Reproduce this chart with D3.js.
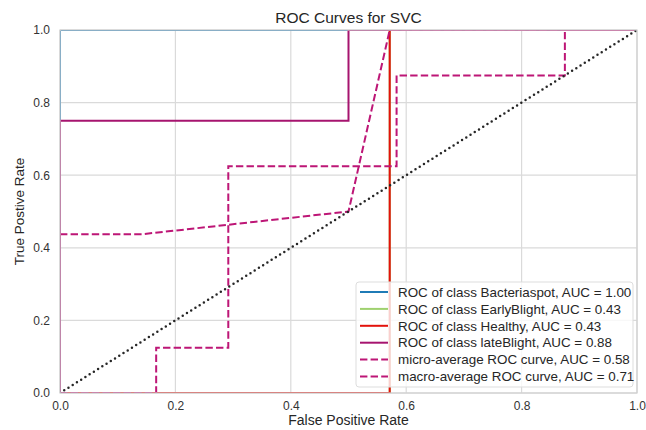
<!DOCTYPE html>
<html>
<head>
<meta charset="utf-8">
<script src="https://cdn.jsdelivr.net/npm/d3@7"></script>
<style>
  html, body { margin: 0; padding: 0; background: #ffffff; }
  svg { display: block; font-family: "Liberation Sans", Arial, sans-serif; }
</style>
</head>
<body>
<svg id="chart" width="646" height="430"></svg>
<script>
// ROC curves (false positive rate / true positive rate) per class
const classNames = ["Bacteriaspot", "EarlyBlight", "Healthy", "lateBlight"];
const classAuc = [1.00, 0.43, 0.43, 0.88];
const classColors = ["#1f7bb6", "#9fd16f", "#e3120b", "#a6146f"];

const bacteriaspotFpr = [0, 0, 1];
const bacteriaspotTpr = [0, 1, 1];
const earlyBlightFpr = [0, 4 / 7, 4 / 7, 1];
const earlyBlightTpr = [0, 0, 1, 1];
const healthyFpr = [0, 4 / 7, 4 / 7, 1];
const healthyTpr = [0, 0, 1, 1];
const lateBlightFpr = [0, 0, 0.5, 0.5, 1];
const lateBlightTpr = [0, 0.75, 0.75, 1, 1];

const microFpr = [0, 4 / 24, 4 / 24, 7 / 24, 7 / 24, 14 / 24, 14 / 24, 21 / 24, 21 / 24, 1];
const microTpr = [0, 0, 0.125, 0.125, 0.625, 0.625, 0.875, 0.875, 1, 1];
const microAuc = 0.58;
const macroFpr = [0, 1 / 7, 0.5, 4 / 7, 1];
const macroTpr = [0.4375, 0.4375, 0.5, 1, 1];
const macroAuc = 0.71;
const averageColor = "#bd1676";

const tickValues = [0, 0.2, 0.4, 0.6, 0.8, 1.0];

const classFpr = [bacteriaspotFpr, earlyBlightFpr, healthyFpr, lateBlightFpr];
const classTpr = [bacteriaspotTpr, earlyBlightTpr, healthyTpr, lateBlightTpr];

const svg = d3.select("#chart");
const margin = { left: 60, right: 9, top: 30, bottom: 37 };
const W = 646, H = 430;
const x = d3.scaleLinear().domain([0, 1]).range([margin.left, W - margin.right]);
const y = d3.scaleLinear().domain([0, 1]).range([H - margin.bottom, margin.top]);

// clip for the plotting area
svg.append("defs").append("clipPath").attr("id", "plotClip")
  .append("rect")
  .attr("x", x(0)).attr("y", y(1))
  .attr("width", x(1) - x(0)).attr("height", y(0) - y(1));

// grid
const grid = svg.append("g");
grid.selectAll("line.vx").data(tickValues).join("line")
  .attr("x1", d => x(d)).attr("x2", d => x(d))
  .attr("y1", y(0)).attr("y2", y(1))
  .attr("stroke", "#dadada").attr("stroke-width", 1.2);
grid.selectAll("line.hy").data(tickValues).join("line")
  .attr("x1", x(0)).attr("x2", x(1))
  .attr("y1", d => y(d)).attr("y2", d => y(d))
  .attr("stroke", "#dadada").attr("stroke-width", 1.2);

// axes (labels only, no tick marks)
const xAxis = svg.append("g")
  .attr("transform", `translate(0,${y(0)})`)
  .call(d3.axisBottom(x).tickValues(tickValues).tickFormat(d3.format(".1f")).tickSize(0).tickPadding(8));
const yAxis = svg.append("g")
  .attr("transform", `translate(${x(0)},0)`)
  .call(d3.axisLeft(y).tickValues(tickValues).tickFormat(d3.format(".1f")).tickSize(0).tickPadding(10));
[xAxis, yAxis].forEach(a => {
  a.select(".domain").remove();
  a.selectAll("text").attr("fill", "#333").style("font-size", "12px")
    .style("font-family", "'Liberation Sans', Arial, sans-serif");
});

const plot = svg.append("g").attr("clip-path", "url(#plotClip)");
const line = d3.line().x(d => x(d[0])).y(d => y(d[1]));

// per-class curves
classNames.forEach((name, i) => {
  const pts = classFpr[i].map((f, j) => [f, classTpr[i][j]]);
  plot.append("path").datum(pts)
    .attr("d", line).attr("fill", "none")
    .attr("stroke", classColors[i]).attr("stroke-width", 2);
});

// averaged curves
plot.append("path").datum(microFpr.map((f, j) => [f, microTpr[j]]))
  .attr("d", line).attr("fill", "none")
  .attr("stroke", averageColor).attr("stroke-width", 2)
  .attr("stroke-dasharray", "7.4,3.2");
plot.append("path").datum(macroFpr.map((f, j) => [f, macroTpr[j]]))
  .attr("d", line).attr("fill", "none")
  .attr("stroke", averageColor).attr("stroke-width", 2)
  .attr("stroke-dasharray", "7.4,3.2");

// chance diagonal
plot.append("path").datum([[0, 0], [1, 1]])
  .attr("d", line).attr("fill", "none")
  .attr("stroke", "#262626").attr("stroke-width", 2.5)
  .attr("stroke-linecap", "round")
  .attr("stroke-dasharray", "0,5");

// frame
svg.append("rect")
  .attr("x", x(0)).attr("y", y(1))
  .attr("width", x(1) - x(0)).attr("height", y(0) - y(1))
  .attr("fill", "none").attr("stroke", "#d0d0d0").attr("stroke-width", 1.2);

// title and axis labels
svg.append("text").attr("x", (x(0) + x(1)) / 2).attr("y", 23)
  .attr("text-anchor", "middle").attr("fill", "#262626")
  .style("font-size", "15.5px").text("ROC Curves for SVC");
svg.append("text").attr("x", (x(0) + x(1)) / 2).attr("y", 425)
  .attr("text-anchor", "middle").attr("fill", "#262626")
  .style("font-size", "14px").text("False Positive Rate");
svg.append("text")
  .attr("transform", `translate(24,${(y(0) + y(1)) / 2}) rotate(-90)`)
  .attr("text-anchor", "middle").attr("fill", "#262626")
  .style("font-size", "13.5px").text("True Postive Rate");

// legend
const legendItems = classNames.map((n, i) => ({
  label: `ROC of class ${n}, AUC = ${classAuc[i].toFixed(2)}`, color: classColors[i], dash: null
})).concat([
  { label: `micro-average ROC curve, AUC = ${microAuc.toFixed(2)}`, color: averageColor, dash: "7.4,3.2" },
  { label: `macro-average ROC curve, AUC = ${macroAuc.toFixed(2)}`, color: averageColor, dash: "7.4,3.2" }
]);

const lg = svg.append("g").attr("transform", "translate(356,282)");
lg.append("rect").attr("width", 277).attr("height", 105).attr("rx", 3)
  .attr("fill", "#ffffff").attr("fill-opacity", 0.8)
  .attr("stroke", "#dddddd").attr("stroke-width", 1);
const rows = lg.selectAll("g.row").data(legendItems).join("g")
  .attr("transform", (d, i) => `translate(0,${10 + i * 16.9})`);
rows.append("line").attr("x1", 4).attr("x2", 32).attr("y1", 0).attr("y2", 0)
  .attr("stroke", d => d.color).attr("stroke-width", 2)
  .attr("stroke-dasharray", d => d.dash);
rows.append("text").attr("x", 42).attr("y", 0).attr("dy", "0.35em")
  .attr("fill", "#262626").style("font-size", "13.4px").text(d => d.label);
</script>
</body>
</html>
